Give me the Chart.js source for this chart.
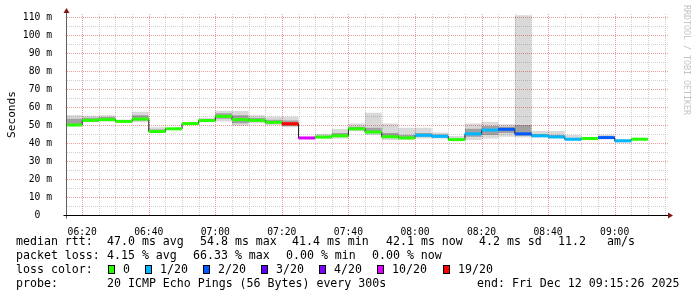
<!DOCTYPE html>
<html lang="en">
<head>
<meta charset="utf-8">
<title>SmokePing - median rtt</title>
<script src="https://cdn.jsdelivr.net/npm/chart.js@4.4.1/dist/chart.umd.min.js"></script>
<style>
    html, body { margin: 0; padding: 0; background: #fff; }
    #lienzo {
        position: relative;
        width: 697px;
        height: 297px;
        overflow: hidden;
        font-family: "DejaVu Sans Mono", monospace;
        font-size: 11.6px;
        color: #000;
    }
    #lienzo canvas { position: absolute; left: 0; top: 0; }
    .txt { position: absolute; white-space: pre; line-height: 14px; }
    .caja {
        position: absolute;
        width: 7px;
        height: 9px;
        border: 1px solid #000;
        box-sizing: border-box;
    }
    #marca {
        position: absolute;
        left: 682px;
        top: 5px;
        writing-mode: vertical-rl;
        font-size: 8.3px;
        line-height: 10px;
        color: #c4c4c4;
        white-space: pre;
    }
</style>
</head>
<body>
<div id="lienzo">
    <canvas id="graficaPing" width="697" height="297"></canvas>
    <div id="marca">RRDTOOL / TOBI OETIKER</div>

    <div class="txt" style="left:16px;top:234px">median rtt:</div>
    <div class="txt" style="left:107px;top:234px">47.0 ms avg</div>
    <div class="txt" style="left:200px;top:234px">54.8 ms max</div>
    <div class="txt" style="left:292px;top:234px">41.4 ms min</div>
    <div class="txt" style="left:386px;top:234px">42.1 ms now</div>
    <div class="txt" style="left:479px;top:234px">4.2 ms sd</div>
    <div class="txt" style="left:558px;top:234px">11.2</div>
    <div class="txt" style="left:607px;top:234px">am/s</div>

    <div class="txt" style="left:16px;top:248px">packet loss:</div>
    <div class="txt" style="left:107px;top:248px">4.15 % avg</div>
    <div class="txt" style="left:193px;top:248px">66.33 % max</div>
    <div class="txt" style="left:286px;top:248px">0.00 % min</div>
    <div class="txt" style="left:372px;top:248px">0.00 % now</div>

    <div class="txt" style="left:16px;top:262px">loss color:</div>
    <div id="leyendaPerdida"></div>

    <div class="txt" style="left:16px;top:276px">probe:</div>
    <div class="txt" style="left:107px;top:276px">20 ICMP Echo Pings (56 Bytes) every 300s</div>
    <div class="txt" style="left:477px;top:276px">end: Fri Dec 12 09:15:26 2025</div>
</div>

<script>
/* ==================
    DATOS
================== */

const inicioEje = "06:15:26";
const finEje = "09:15:26";

// inicio de cada intervalo de 5 minutos; el ultimo termina en finSerie
const inicios = [
    "06:15", "06:20", "06:25", "06:30", "06:35", "06:40", "06:45", "06:50", "06:55",
    "07:00", "07:05", "07:10", "07:15", "07:20", "07:25", "07:30", "07:35", "07:40",
    "07:45", "07:50", "07:55", "08:00", "08:05", "08:10", "08:15", "08:20", "08:25",
    "08:30", "08:35", "08:40", "08:45", "08:50", "08:55", "09:00", "09:05",
];
const finSerie = "09:10";

// mediana en ms
const medianas = [
    50.0, 52.6, 53.0, 52.0, 53.3, 46.4, 47.9, 50.8, 52.5,
    54.8, 53.0, 52.6, 51.5, 50.7, 42.8, 43.3, 44.0, 47.9,
    46.1, 43.5, 42.8, 44.3, 43.7, 41.9, 45.1, 47.2, 47.6,
    45.1, 44.0, 43.4, 42.1, 42.5, 43.0, 41.2, 42.1,
];

// humo exterior (ping mas rapido / mas lento)
const humoMin = [
    49.5, 51.5, 52.0, 51.5, 51.6, 45.5, 47.5, 50.0, 51.5,
    51.9, 49.6, 51.0, 50.0, 48.7, 42.3, 42.5, 42.5, 46.5,
    44.4, 41.7, 42.0, 42.5, 42.5, 41.5, 41.7, 42.5, 43.5,
    43.0, 43.0, 42.5, 41.5, 42.0, 42.5, 40.8, 41.8,
];
const humoMax = [
    55.5, 55.2, 55.5, 53.0, 57.4, 48.7, 48.5, 51.5, 54.0,
    58.0, 57.8, 55.5, 54.6, 54.6, 43.5, 45.0, 47.8, 50.9,
    56.8, 50.9, 48.5, 48.5, 45.9, 43.9, 50.9, 51.8, 50.5,
    111.0, 46.7, 46.7, 44.4, 43.3, 44.6, 42.2, 42.5,
];

// humo interior (zona mas oscura)
const nucleoMin = [
    50.0, 52.0, 52.5, 51.8, 52.5, 46.0, 47.6, 50.5, 52.0,
    53.5, 51.0, 52.0, 51.0, 49.5, 42.5, 43.0, 43.5, 47.5,
    45.5, 43.0, 42.5, 43.5, 43.2, 41.7, 43.5, 44.5, 45.5,
    44.0, 43.5, 43.0, 41.8, 42.2, 42.8, 41.0, 42.0,
];
const nucleoMax = [
    53.5, 54.0, 54.5, 52.5, 55.5, 47.5, 48.2, 51.2, 53.2,
    56.5, 55.5, 54.0, 53.0, 52.5, 43.2, 44.0, 45.5, 49.0,
    48.5, 45.5, 44.5, 45.5, 44.8, 42.3, 48.0, 49.5, 49.0,
    50.0, 45.0, 44.5, 42.8, 42.8, 43.6, 41.8, 42.3,
];

// pings perdidos de 20 en cada intervalo
const perdidas = [
    0, 0, 0, 0, 0, 0, 0, 0, 0,
    0, 0, 0, 0, 19, 10, 0, 0, 0,
    0, 0, 0, 1, 1, 0, 1, 1, 2,
    2, 1, 1, 1, 0, 2, 1, 0,
];

const nivelesPerdida = [0, 1, 2, 3, 4, 10, 19];
const coloresPerdida = ["#26ff00", "#00b8ff", "#0059ff", "#5e00ff", "#7e00ff", "#dd00ff", "#ff0000"];

const etiquetasX = ["06:20", "06:40", "07:00", "07:20", "07:40", "08:00", "08:20", "08:40", "09:00"];
const valoresY = [0, 10, 20, 30, 40, 50, 60, 70, 80, 90, 100, 110];
const etiquetasY = ["0  ", "10 m", "20 m", "30 m", "40 m", "50 m", "60 m", "70 m", "80 m", "90 m", "100 m", "110 m"];

/* ==================
    UTILIDADES
================== */

function aMinutos(hora) {
    const partes = hora.split(":").map(Number);
    return partes[0] * 60 + partes[1] + (partes[2] || 0) / 60;
}

function colorDePerdida(pings) {
    return coloresPerdida[nivelesPerdida.indexOf(pings)];
}

// escalones: un punto por inicio y uno final en finSerie
function puntosEscalon(valores) {
    const puntos = inicios.map((hora, i) => ({ x: aMinutos(hora), y: valores[i] }));
    puntos.push({ x: aMinutos(finSerie), y: valores[valores.length - 1] });
    return puntos;
}

// tramos horizontales sueltos para la banda de color
function puntosTramos(valores) {
    const puntos = [];
    inicios.forEach((hora, i) => {
        const fin = i + 1 < inicios.length ? inicios[i + 1] : finSerie;
        puntos.push({ x: aMinutos(hora), y: valores[i] });
        puntos.push({ x: aMinutos(fin), y: valores[i] });
        puntos.push({ x: aMinutos(fin), y: null });
    });
    return puntos;
}

function construirLeyenda() {
    const contenedor = document.getElementById("leyendaPerdida");
    const posCaja = [108, 145, 203, 261, 319, 377, 443];
    const posTexto = [123, 160, 218, 276, 334, 392, 458];
    nivelesPerdida.forEach((nivel, i) => {
        const caja = document.createElement("div");
        caja.className = "caja";
        caja.style.left = posCaja[i] + "px";
        caja.style.top = "265px";
        caja.style.background = coloresPerdida[i];
        contenedor.appendChild(caja);

        const texto = document.createElement("div");
        texto.className = "txt";
        texto.style.left = posTexto[i] + "px";
        texto.style.top = "262px";
        texto.textContent = nivel === 0 ? "0" : nivel + "/20";
        contenedor.appendChild(texto);
    });
}

/* ==================
    REJILLA Y EJES
================== */

const colorMayor = "rgba(228, 90, 90, 0.6)";
const colorMenor = "rgba(150, 150, 150, 0.45)";

function esMayorX(valor) {
    return etiquetasX.map(aMinutos).includes(valor);
}

const rejillaPunteada = {
    id: "rejillaPunteada",
    beforeDatasetsDraw(chart) {
        const { ctx, chartArea, scales } = chart;
        ctx.save();
        ctx.lineWidth = 1;
        ctx.setLineDash([1, 1]);

        scales.y.ticks.forEach((tick) => {
            const y = Math.round(scales.y.getPixelForValue(tick.value)) + 0.5;
            ctx.strokeStyle = tick.value % 10 === 0 ? colorMayor : colorMenor;
            ctx.beginPath();
            ctx.moveTo(chartArea.left, y);
            ctx.lineTo(chartArea.right + 2, y);
            ctx.stroke();
        });

        scales.x.ticks.forEach((tick) => {
            const x = Math.round(scales.x.getPixelForValue(tick.value)) + 0.5;
            ctx.strokeStyle = esMayorX(tick.value) ? colorMayor : colorMenor;
            ctx.beginPath();
            ctx.moveTo(x, chartArea.top);
            ctx.lineTo(x, chartArea.bottom);
            ctx.stroke();
        });
        ctx.restore();
    },
};

const ejesConFlecha = {
    id: "ejesConFlecha",
    afterDraw(chart) {
        const { ctx, chartArea } = chart;
        const x0 = chartArea.left - 0.5;
        const y0 = chartArea.bottom + 0.5;
        ctx.save();
        ctx.lineWidth = 1;

        ctx.strokeStyle = "#606060";
        ctx.beginPath();
        ctx.moveTo(x0, y0 + 3);
        ctx.lineTo(x0, chartArea.top - 2);
        ctx.stroke();

        ctx.strokeStyle = "#000";
        ctx.beginPath();
        ctx.moveTo(x0 - 3, y0);
        ctx.lineTo(chartArea.right + 2, y0);
        ctx.stroke();

        ctx.fillStyle = "#861414";
        ctx.beginPath();
        ctx.moveTo(x0, chartArea.top - 6);
        ctx.lineTo(x0 - 3, chartArea.top - 1);
        ctx.lineTo(x0 + 3, chartArea.top - 1);
        ctx.closePath();
        ctx.fill();

        ctx.beginPath();
        ctx.moveTo(chartArea.right + 7, y0);
        ctx.lineTo(chartArea.right + 2, y0 - 3);
        ctx.lineTo(chartArea.right + 2, y0 + 3);
        ctx.closePath();
        ctx.fill();
        ctx.restore();
    },
};

/* ==================
    GRAFICA
================== */

function crearGraficaPing() {
    const canvas = document.getElementById("graficaPing");
    if (!canvas || typeof Chart === "undefined") {
        return;
    }

    const minX = aMinutos(inicioEje);
    const maxX = aMinutos(finEje);
    const ticksX = [];
    for (let m = Math.ceil(minX / 5) * 5; m <= maxX; m += 5) {
        ticksX.push(m);
    }
    const ticksY = [];
    for (let v = 0; v <= 110; v += 5) {
        ticksY.push(v);
    }

    const fuente = "'DejaVu Sans Mono', monospace";

    const capaBase = {
        stepped: "before",
        pointRadius: 0,
        borderWidth: 0,
        clip: 0,
    };

    Chart.defaults.color = "#000";

    new Chart(canvas.getContext("2d"), {
        type: "line",
        data: {
            datasets: [
                {
                    label: "median color",
                    data: puntosTramos(medianas),
                    pointRadius: 0,
                    borderWidth: 3,
                    spanGaps: false,
                    clip: 0,
                    borderColor: "#26ff00",
                    segment: {
                        borderColor: (ctx) => colorDePerdida(perdidas[Math.floor(ctx.p0DataIndex / 3)]),
                    },
                },
                {
                    ...capaBase,
                    label: "median",
                    data: puntosEscalon(medianas),
                    borderWidth: 1,
                    borderColor: "#202020",
                },
                {
                    ...capaBase,
                    label: "core hi",
                    data: puntosEscalon(nucleoMax),
                    fill: "+1",
                    backgroundColor: "rgba(0, 0, 0, 0.26)",
                },
                {
                    ...capaBase,
                    label: "core lo",
                    data: puntosEscalon(nucleoMin),
                    fill: false,
                },
                {
                    ...capaBase,
                    label: "smoke hi",
                    data: puntosEscalon(humoMax),
                    fill: "+1",
                    backgroundColor: "rgba(0, 0, 0, 0.15)",
                },
                {
                    ...capaBase,
                    label: "smoke lo",
                    data: puntosEscalon(humoMin),
                    fill: false,
                },
            ],
        },
        options: {
            responsive: false,
            animation: false,
            devicePixelRatio: 1,
            parsing: false,
            layout: {
                padding: { left: 0, top: 14, right: 31, bottom: 0 },
            },
            plugins: {
                legend: { display: false },
                tooltip: { enabled: false },
            },
            scales: {
                x: {
                    type: "linear",
                    min: minX,
                    max: maxX,
                    afterBuildTicks: (escala) => {
                        escala.ticks = ticksX.map((v) => ({ value: v }));
                    },
                    afterFit: (escala) => {
                        escala.height = 82;
                    },
                    ticks: {
                        autoSkip: false,
                        maxRotation: 0,
                        padding: 4,
                        font: { family: fuente, size: 9.7 },
                        callback: (valor) => {
                            const i = etiquetasX.map(aMinutos).indexOf(valor);
                            return i >= 0 ? etiquetasX[i] : "";
                        },
                    },
                    grid: { display: false },
                    border: { display: false },
                },
                y: {
                    type: "linear",
                    min: 0,
                    max: 111.7,
                    afterBuildTicks: (escala) => {
                        escala.ticks = ticksY.map((v) => ({ value: v }));
                    },
                    afterFit: (escala) => {
                        escala.width = 67;
                    },
                    ticks: {
                        autoSkip: false,
                        padding: 7,
                        font: { family: fuente, size: 9.7 },
                        callback: (valor) => {
                            const i = valoresY.indexOf(valor);
                            return i >= 0 ? etiquetasY[i] : "";
                        },
                    },
                    grid: { display: false },
                    border: { display: false },
                    title: {
                        display: true,
                        text: "Seconds",
                        font: { family: fuente, size: 11.1 },
                        padding: { top: 5, bottom: 0 },
                    },
                },
            },
        },
        plugins: [rejillaPunteada, ejesConFlecha],
    });
}

construirLeyenda();

if (document.readyState === "loading") {
    document.addEventListener("DOMContentLoaded", crearGraficaPing);
} else {
    crearGraficaPing();
}
</script>
</body>
</html>
